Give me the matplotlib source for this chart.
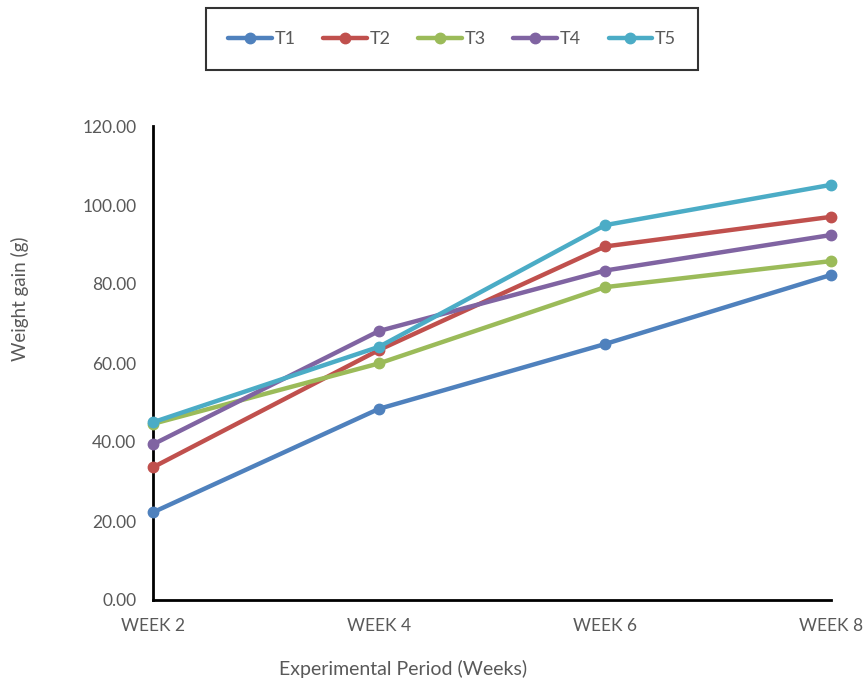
import matplotlib
matplotlib.use("Agg")
import matplotlib.pyplot as plt

weeks = ["WEEK 2", "WEEK 4", "WEEK 6", "WEEK 8"]
series_names = ["T1", "T2", "T3", "T4", "T5"]
t1 = [22.2, 48.4, 64.8, 82.3]
t2 = [33.6, 63.3, 89.5, 97.0]
t3 = [44.6, 59.9, 79.2, 85.8]
t4 = [39.4, 68.1, 83.4, 92.4]
t5 = [45.0, 64.1, 94.9, 105.1]
y_ticks = [0, 20, 40, 60, 80, 100, 120]

colors = ["#4F81BD", "#C0504D", "#9BBB59", "#8064A2", "#4BACC6"]
text_color = "#595959"
plt.rcParams["font.family"] = ["Lato", "DejaVu Sans"]

fig = plt.figure(figsize=(8.64, 6.85), dpi=100)
ax = fig.add_axes([153 / 864, 1 - 600 / 685, (831 - 153) / 864, (600 - 126) / 685])

x = list(range(len(weeks)))
handles = []
for name, vals, c in zip(series_names, [t1, t2, t3, t4, t5], colors):
    h, = ax.plot(x, vals, color=c, lw=3.2, marker="o", markersize=7.5,
                 solid_capstyle="round", clip_on=False, label=name, zorder=3)
    handles.append(h)

ax.set_xlim(0, 3)
ax.set_ylim(0, 120)
ax.set_yticks(y_ticks)
ax.set_yticklabels([f"{v:.2f}" for v in y_ticks])
ax.set_xticks(x)
ax.set_xticklabels(weeks)
ax.tick_params(axis="both", length=0, labelsize=12.5, labelcolor=text_color)
ax.tick_params(axis="y", pad=12)
ax.tick_params(axis="x", pad=13)
for s in ["top", "right"]:
    ax.spines[s].set_visible(False)
for s in ["left", "bottom"]:
    ax.spines[s].set_color("black")
    ax.spines[s].set_linewidth(2)

fig.text(20 / 864, 1 - 299 / 685, "Weight gain (g)", rotation=90, ha="center",
         va="center", fontsize=13.5, color=text_color)
fig.text(403 / 864, 1 - 669 / 685, "Experimental Period (Weeks)", ha="center",
         va="center", fontsize=14, color=text_color)

leg = fig.legend(handles=handles, loc="center", bbox_to_anchor=(452 / 864, 1 - 39 / 685),
                 ncol=5, frameon=True, fontsize=13, handlelength=2.4,
                 handletextpad=0.15, columnspacing=1.55, borderpad=1.25,
                 borderaxespad=0, fancybox=False, labelcolor=text_color)
leg.get_frame().set_edgecolor("black")
leg.get_frame().set_linewidth(1.5)

fig.savefig("out.png", dpi=100)
